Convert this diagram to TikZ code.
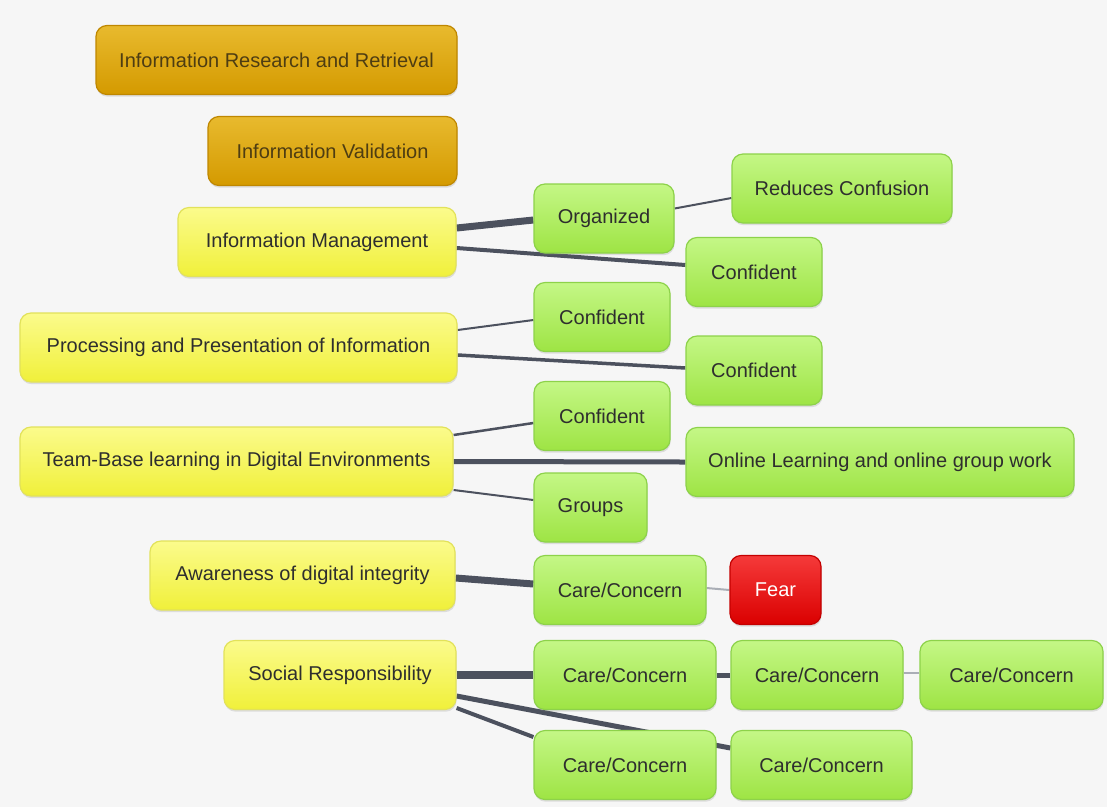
\documentclass[tikz,border=0pt]{standalone}
\usepackage{fontspec}
\setmainfont{Liberation Sans}
\usetikzlibrary{calc, positioning, shadows}

\definecolor{pagebg}{HTML}{F6F6F6}
\definecolor{goldtop}{HTML}{E8BA2E}
\definecolor{goldbot}{HTML}{D49A00}
\definecolor{golddraw}{HTML}{BF8700}
\definecolor{goldtext}{HTML}{4E3D12}
\definecolor{yeltop}{HTML}{FBFB8C}
\definecolor{yelbot}{HTML}{F0F03A}
\definecolor{yeldraw}{HTML}{E2E25A}
\definecolor{grntop}{HTML}{C4F786}
\definecolor{grnbot}{HTML}{9EE444}
\definecolor{grndraw}{HTML}{8DD24A}
\definecolor{redtop}{HTML}{F53A3A}
\definecolor{redbot}{HTML}{DA0000}
\definecolor{reddraw}{HTML}{C40000}
\definecolor{boxtext}{HTML}{2E2E2E}
\definecolor{linkdark}{HTML}{4C515E}
\definecolor{linklight}{HTML}{AAAEB6}

\pgfdeclarelayer{bg}
\pgfdeclarelayer{links}
\pgfsetlayers{bg,links,main}

\begin{document}
\begin{tikzpicture}[x=1pt, y=-1pt,
    box/.style={rounded corners=11pt, minimum height=69pt, inner sep=0pt, line width=1.2pt,
        font=\fontsize{20}{24}\selectfont,
        drop shadow={opacity=0.22, shadow xshift=0.6pt, shadow yshift=-2.2pt}},
    goldbox/.style={box, draw=golddraw, top color=goldtop, bottom color=goldbot, text=goldtext, minimum width=#1},
    yelbox/.style={box, draw=yeldraw, top color=yeltop, bottom color=yelbot, text=boxtext, minimum width=#1},
    grnbox/.style={box, draw=grndraw, top color=grntop, bottom color=grnbot, text=boxtext, minimum width=#1},
    redbox/.style={box, draw=reddraw, top color=redtop, bottom color=redbot, text=white, minimum width=#1},
    link/.style={draw=linkdark, line width=#1},
    faint/.style={draw=linklight, line width=#1}]

    \begin{pgfonlayer}{bg}
        \fill[pagebg] (0,0) rectangle (1107,807);
    \end{pgfonlayer}
    \useasboundingbox (0,0) rectangle (1107,807);

    % left column
    \node[goldbox=361pt] (irr) at (276.5,60) {Information Research and Retrieval};
    \node[goldbox=249pt] (iv) at (332.5,151) {Information Validation};
    \node[yelbox=278pt] (im) at (317,242) {Information Management};
    \node[yelbox=437pt] (ppi) at (238.5,347.5) {Processing and Presentation of Information};
    \node[yelbox=433pt] (tbl) at (236.5,461.5) {Team-Base learning in Digital Environments};
    \node[yelbox=305pt] (adi) at (302.5,575.5) {Awareness of digital integrity};
    \node[yelbox=232pt] (sr) at (340,675) {Social Responsibility};

    % right side
    \node[grnbox=140pt] (org) at (604,218.5) {Organized};
    \node[grnbox=220pt] (rc) at (842,188.5) {Reduces Confusion};
    \node[grnbox=136pt] (conf1) at (754,272) {Confident};
    \node[grnbox=136pt] (conf2) at (602,317) {Confident};
    \node[grnbox=136pt] (conf3) at (754,370.5) {Confident};
    \node[grnbox=136pt] (conf4) at (602,416) {Confident};
    \node[grnbox=388pt] (onl) at (880,462) {Online Learning and online group work};
    \node[grnbox=113pt] (grp) at (590.5,507.5) {Groups};
    \node[grnbox=172pt] (cc1) at (620,590) {Care/Concern};
    \node[redbox=91pt] (fear) at (775.5,590) {Fear};
    \node[grnbox=182pt] (cc2) at (625,675) {Care/Concern};
    \node[grnbox=172pt] (cc3) at (817,675) {Care/Concern};
    \node[grnbox=183pt] (cc4) at (1011.5,675) {Care/Concern};
    \node[grnbox=182pt] (cc5) at (625,765) {Care/Concern};
    \node[grnbox=181pt] (cc6) at (821.5,765) {Care/Concern};

    \begin{pgfonlayer}{links}
        \draw[link=7pt] ([yshift=14pt]im.east) -- ([yshift=-1.5pt]org.west);
        \draw[link=4pt] ([yshift=-6pt]im.east) -- ([yshift=7pt]conf1.west);
        \draw[link=2pt] ([yshift=10pt]org.east) -- ([yshift=-9.5pt]rc.west);
        \draw[link=2pt] ([yshift=17.5pt]ppi.east) -- ([yshift=-3pt]conf2.west);
        \draw[link=3.5pt] ([yshift=-7.5pt]ppi.east) -- ([yshift=2.5pt]conf3.west);
        \draw[link=2.5pt] ([yshift=26.5pt]tbl.east) -- ([yshift=-7pt]conf4.west);
        \draw[link=5pt] (tbl.east) -- (onl.west);
        \draw[link=2pt] ([yshift=-28.5pt]tbl.east) -- ([yshift=7.5pt]grp.west);
        \draw[link=7pt] ([yshift=-2.5pt]adi.east) -- ([yshift=6pt]cc1.west);
        \draw[faint=2pt] ([yshift=2pt]cc1.east) -- (fear.west);
        \draw[link=8pt] (sr.east) -- (cc2.west);
        \draw[link=5pt] (cc2.east) -- (cc3.west);
        \draw[faint=2pt] ([yshift=2pt]cc3.east) -- ([yshift=2pt]cc4.west);
        \draw[link=4pt] ([yshift=-33pt]sr.east) -- ([yshift=28pt]cc5.west);
        \draw[link=5pt] ([yshift=-21pt]sr.east) -- ([yshift=17pt]cc6.west);
    \end{pgfonlayer}
\end{tikzpicture}
\end{document}
